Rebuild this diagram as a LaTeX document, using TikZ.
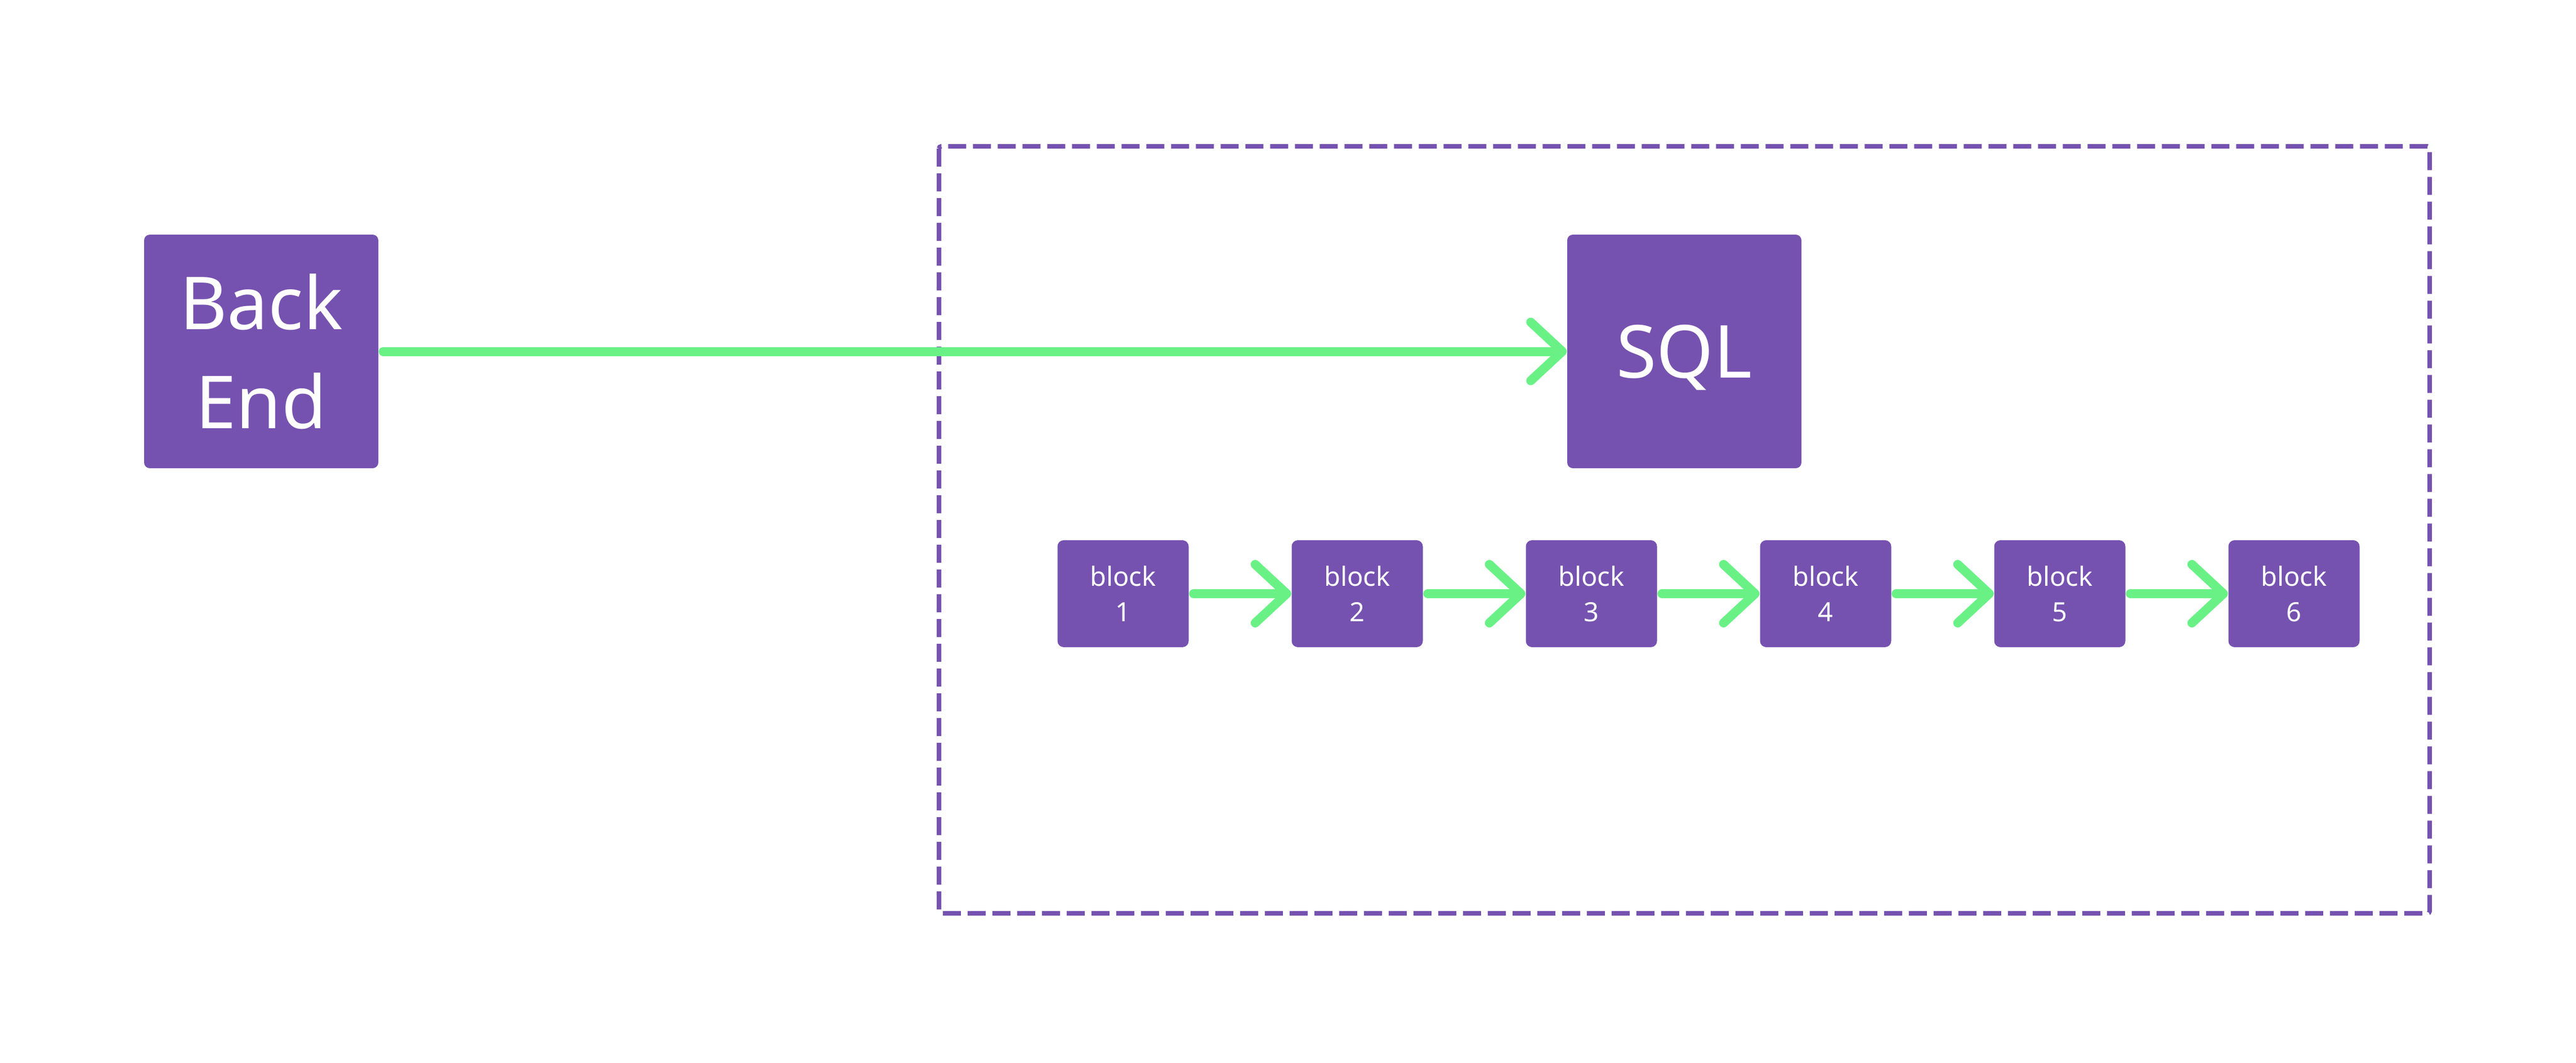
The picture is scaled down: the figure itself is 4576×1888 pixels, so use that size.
\documentclass[tikz,border=0pt]{standalone}
\usepackage{fontspec}
\setmainfont{Noto Sans}
\usetikzlibrary{arrows.meta}
\definecolor{boxpurple}{HTML}{7652B0}
\definecolor{arrowgreen}{HTML}{6AF186}
\begin{document}
\begin{tikzpicture}[x=0.25pt,y=-0.25pt,
  bigbox/.style={fill=boxpurple, rounded corners=2.5pt, minimum width=104pt, minimum height=103.75pt, inner sep=0pt, text=white, align=center, font=\fontsize{32.5pt}{44pt}\selectfont},
  blockbox/.style={fill=boxpurple, rounded corners=2.75pt, minimum width=58.25pt, minimum height=47.5pt, inner sep=0pt, text=white, align=center, font=\fontsize{11.75pt}{15.75pt}\selectfont},
  flow/.style={draw=arrowgreen, line width=4pt, line cap=round, shorten <=2pt, -{Straight Barb[length=14pt,width=26pt,round]}},
  frame/.style={draw=boxpurple, line width=2pt, dash pattern=on 8pt off 3pt, rounded corners=1pt}]
\useasboundingbox (0,0) rectangle (4576,1888);
\draw[frame] (1668,260) rectangle (4316,1623);
\node[bigbox] (be) at (464,624.5) {Back\\End};
\node[bigbox, text depth=0pt] (sql) at (2992,624.5) {SQL};
\foreach \i in {1,...,6} { \node[blockbox] (b\i) at ({1995+416*(\i-1)},1055) {block\\\i}; }
\draw[flow] (be) -- (sql);
\foreach \i/\j in {1/2,2/3,3/4,4/5,5/6} \draw[flow] (b\i) -- (b\j);
\end{tikzpicture}
\end{document}
